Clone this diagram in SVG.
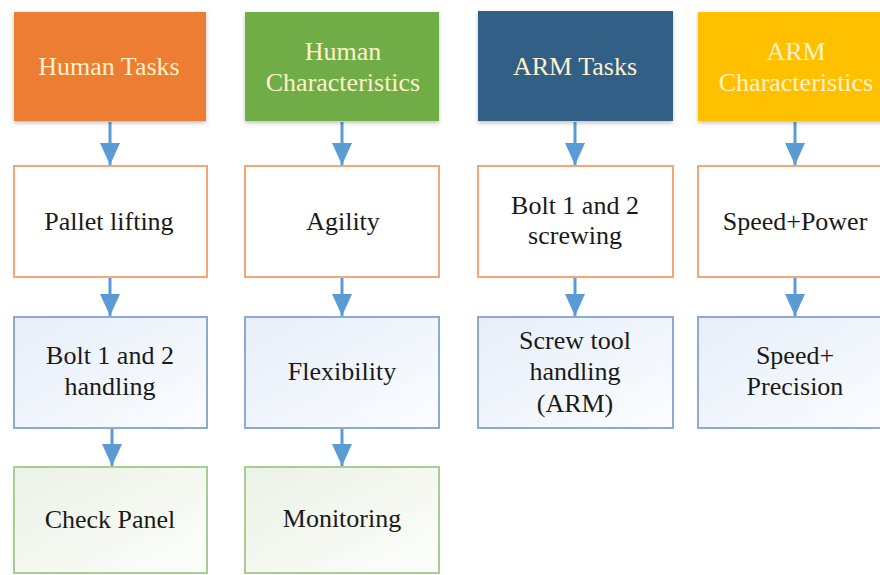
<svg xmlns="http://www.w3.org/2000/svg" width="880" height="575" viewBox="0 0 880 575">
<defs>
<linearGradient id="gBlue" x1="0" y1="0" x2="1" y2="1"><stop offset="0" stop-color="#E6EEF9"/><stop offset="1" stop-color="#FBFDFF"/></linearGradient>
<linearGradient id="gGreen" x1="0" y1="0" x2="1" y2="1"><stop offset="0" stop-color="#EBF2E6"/><stop offset="1" stop-color="#FCFEFB"/></linearGradient>
<filter id="sh" x="-10%" y="-10%" width="120%" height="125%"><feDropShadow dx="0" dy="2" stdDeviation="2" flood-color="#000" flood-opacity="0.25"/></filter>
<marker id="ah" viewBox="0 0 22 20" refX="22" refY="10" markerWidth="22" markerHeight="20" markerUnits="userSpaceOnUse" orient="auto"><path d="M0,0 L22,10 L0,20 Z" fill="#5B9BD5"/></marker>
</defs>
<style>
text{font-family:"Liberation Serif","Times New Roman",serif;font-size:26px;text-anchor:middle}
.hd text{fill:#FFF2CC}
.body text{fill:#1a1a1a}
.w{fill:#FFFFFF;stroke:#F4A677;stroke-width:2}
.b{fill:url(#gBlue);stroke:#8EAAD3;stroke-width:2}
.g{fill:url(#gGreen);stroke:#A9CC8F;stroke-width:2}
.con line{stroke:#5B9BD5;stroke-width:3;marker-end:url(#ah)}
</style>
<rect width="880" height="575" fill="#FFFFFF"/>
<g id="connectors" class="con">
<line x1="110" y1="122" x2="110" y2="165"/>
<line x1="110" y1="278" x2="110" y2="316"/>
<line x1="112" y1="429" x2="112" y2="466"/>
<line x1="342" y1="122" x2="342" y2="165"/>
<line x1="342" y1="278" x2="342" y2="316"/>
<line x1="342" y1="429" x2="342" y2="466"/>
<line x1="575" y1="122" x2="575" y2="165"/>
<line x1="575" y1="278" x2="575" y2="316"/>
<line x1="795" y1="122" x2="795" y2="165"/>
<line x1="795" y1="278" x2="795" y2="316"/>
</g>
<g id="human-tasks" class="hd"><rect x="14" y="12" width="192" height="109" fill="#ED7D31" filter="url(#sh)"/><text x="109" y="75">Human Tasks</text></g>
<g id="human-characteristics" class="hd"><rect x="245" y="12" width="194" height="109" fill="#70AD47" filter="url(#sh)"/><text x="343" y="60">Human</text><text x="343" y="91">Characteristics</text></g>
<g id="arm-tasks" class="hd"><rect x="478" y="11" width="195" height="110" fill="#335F86" filter="url(#sh)"/><text x="575" y="75">ARM Tasks</text></g>
<g id="arm-characteristics" class="hd"><rect x="698" y="12" width="196" height="109" fill="#FFC000" filter="url(#sh)"/><text x="796" y="60">ARM</text><text x="796" y="91">Characteristics</text></g>
<g id="pallet-lifting" class="body"><rect class="w" x="14" y="166" width="193" height="111"/><text x="109" y="230">Pallet lifting</text></g>
<g id="agility" class="body"><rect class="w" x="245" y="166" width="194" height="111"/><text x="343" y="230">Agility</text></g>
<g id="bolt-screwing" class="body"><rect class="w" x="478" y="166" width="195" height="111"/><text x="575" y="214">Bolt 1 and 2</text><text x="575" y="244">screwing</text></g>
<g id="speed-power" class="body"><rect class="w" x="698" y="166" width="196" height="111"/><text x="795" y="230">Speed+Power</text></g>
<g id="bolt-handling" class="body"><rect class="b" x="14" y="317" width="193" height="111"/><text x="110" y="364">Bolt 1 and 2</text><text x="110" y="395">handling</text></g>
<g id="flexibility" class="body"><rect class="b" x="245" y="317" width="194" height="111"/><text x="342" y="380">Flexibility</text></g>
<g id="screw-tool" class="body"><rect class="b" x="478" y="317" width="195" height="111"/><text x="575" y="349">Screw tool</text><text x="575" y="380">handling</text><text x="575" y="412">(ARM)</text></g>
<g id="speed-precision" class="body"><rect class="b" x="698" y="317" width="196" height="111"/><text x="795" y="364">Speed+</text><text x="795" y="395">Precision</text></g>
<g id="check-panel" class="body"><rect class="g" x="14" y="467" width="193" height="106"/><text x="110" y="528">Check Panel</text></g>
<g id="monitoring" class="body"><rect class="g" x="245" y="467" width="194" height="106"/><text x="342" y="527">Monitoring</text></g>
</svg>
